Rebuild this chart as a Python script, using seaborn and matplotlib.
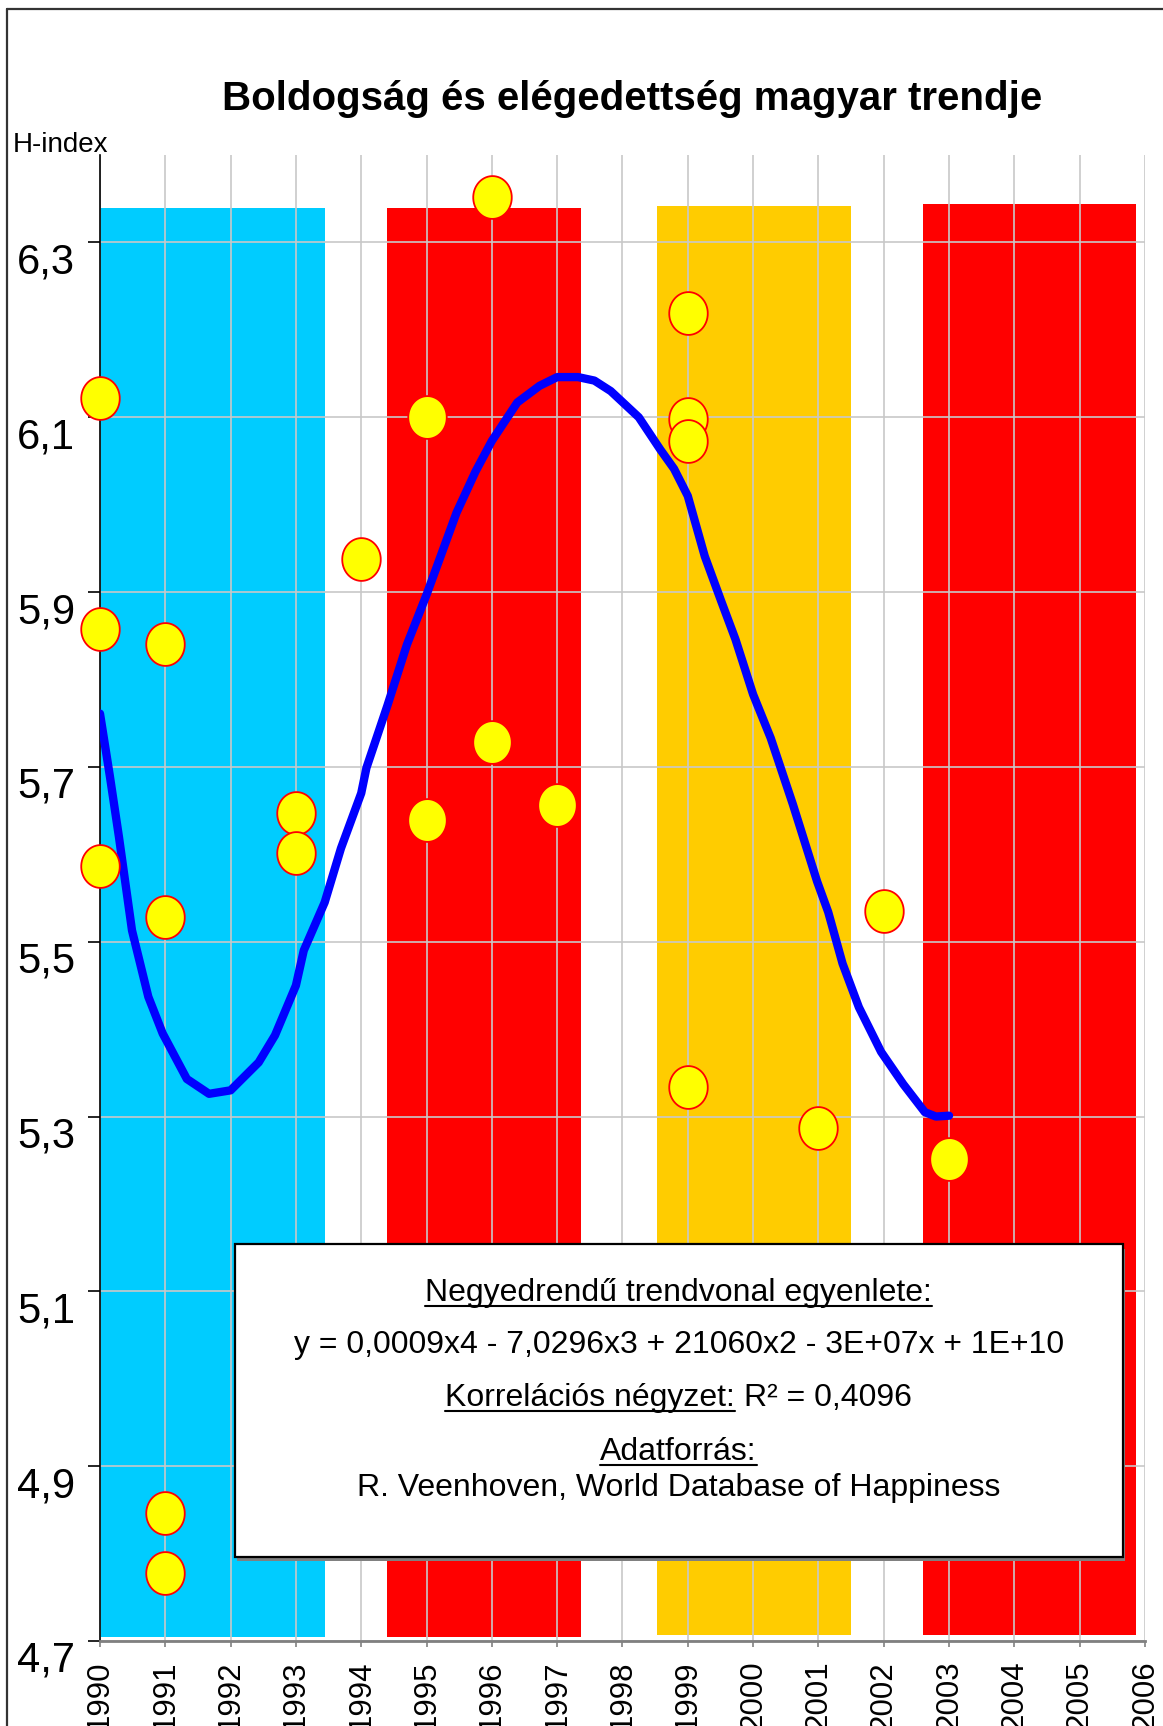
import numpy as np
import seaborn as sns
import matplotlib.pyplot as plt
from matplotlib.patches import Rectangle
from matplotlib.lines import Line2D
from matplotlib.path import Path
from matplotlib.transforms import IdentityTransform

# adatok
point_years = [1990, 1990, 1990, 1991, 1991, 1991, 1991, 1993, 1993, 1994, 1995, 1995,
               1996, 1996, 1997, 1999, 1999, 1999, 1999, 2001, 2002, 2003]
point_values = [6.122, 5.858, 5.587, 5.841, 5.528, 4.847, 4.778, 5.647, 5.601, 5.938, 6.100, 5.639,
                6.352, 5.729, 5.656, 6.219, 6.098, 6.073, 5.334, 5.287, 5.535, 5.251]

trend_years = [1990.0, 1990.15, 1990.29, 1990.49, 1990.74, 1990.96, 1991.33, 1991.67, 1992.0,
               1992.43, 1992.68, 1993.0, 1993.12, 1993.44, 1993.69, 1994.0, 1994.08, 1994.4,
               1994.7, 1995.0, 1995.46, 1995.75, 1996.0, 1996.39, 1996.73, 1997.0, 1997.32,
               1997.57, 1997.82, 1998.25, 1998.58, 1998.79, 1999.0, 1999.26, 1999.51, 1999.73,
               2000.0, 2000.27, 2000.61, 2000.98, 2001.15, 2001.37, 2001.62, 2001.96, 2002.3,
               2002.63, 2002.8, 2003.0]
trend_values = [5.761, 5.69, 5.62, 5.513, 5.437, 5.395, 5.343, 5.326, 5.330,
                5.362, 5.393, 5.450, 5.490, 5.545, 5.607, 5.670, 5.699, 5.770,
                5.840, 5.897, 5.991, 6.038, 6.073, 6.117, 6.136, 6.146, 6.146,
                6.142, 6.130, 6.100, 6.063, 6.041, 6.010, 5.941, 5.890, 5.846,
                5.783, 5.733, 5.657, 5.569, 5.534, 5.475, 5.425, 5.374, 5.337,
                5.305, 5.300, 5.301]

band_start = [1990.0, 1994.4, 1998.53, 2002.6]
band_end = [1993.45, 1997.37, 2001.5, 2005.86]
band_bottom = [4.705, 4.705, 4.707, 4.707]
band_top = [6.340, 6.340, 6.342, 6.344]
band_colors = ['#00CCFF', '#FF0000', '#FFCC00', '#FF0000']

x_ticks = list(range(1990, 2007))
y_ticks = [4.7, 4.9, 5.1, 5.3, 5.5, 5.7, 5.9, 6.1, 6.3]
y_ticklabels = ['4,7', '4,9', '5,1', '5,3', '5,5', '5,7', '5,9', '6,1', '6,3']

sns.set_style('white')
plt.rcParams['font.family'] = ['Liberation Sans', 'DejaVu Sans']
plt.rcParams['text.color'] = 'black'
plt.rcParams['xtick.labelcolor'] = 'black'
plt.rcParams['ytick.labelcolor'] = 'black'

fig = plt.figure(figsize=(11.63, 17.26), dpi=100)
ax = fig.add_axes([0.08598, 0.04925, 0.8985, 0.8609])

# háttérsávok
ax.bar(band_start, np.array(band_top) - np.array(band_bottom),
       width=np.array(band_end) - np.array(band_start), bottom=band_bottom,
       align='edge', color=band_colors, linewidth=0, zorder=0.1)

# trendvonal
sns.lineplot(x=trend_years, y=trend_values, sort=False, estimator=None,
             color='#0000FF', linewidth=6, ax=ax, zorder=3)

# pontok (enyhén elnyújtott kör)
t = np.linspace(0, 2 * np.pi, 60)
ell = Path(np.column_stack([0.9 * np.cos(t), np.sin(t)]))
sns.scatterplot(x=point_years, y=point_values, marker=ell, s=950,
                color='#FFFF00', edgecolor='#FF0000', linewidth=1.3, ax=ax, zorder=4,
                clip_on=False)

ax.set_xlim(1990, 2006)
ax.set_ylim(4.7, 6.4)
ax.set_xticks(x_ticks)
ax.set_xticklabels([str(y) for y in x_ticks], rotation=90, fontsize=22.5)
ax.set_yticks(y_ticks)
ax.set_yticklabels(y_ticklabels, fontsize=30)
plt.setp(ax.get_yticklabels(), va='top')
ax.set_xlabel('')
ax.set_ylabel('')

ax.set_axisbelow(True)
ax.grid(True, color='#C8C8C8', linewidth=1.2)
ax.tick_params(axis='y', direction='out', length=9, width=1.2, color='black', pad=9, left=True)
ax.tick_params(axis='x', direction='out', length=4.3, width=1.2, color='#808080', pad=10, bottom=True)
for s in ['top', 'right']:
    ax.spines[s].set_visible(False)
ax.spines['left'].set_color('black')
ax.spines['left'].set_linewidth(1.2)
ax.spines['bottom'].set_color('#808080')
ax.spines['bottom'].set_linewidth(2)

# szövegdoboz
bx0, bx1, by0, by1 = 1992.06, 2005.66, 4.796, 5.154
ax.add_patch(Rectangle((bx0 + 0.04, by0 - 0.005), bx1 - bx0, by1 - by0, facecolor='#808080',
                       edgecolor='none', zorder=5))
ax.add_patch(Rectangle((bx0, by0), bx1 - bx0, by1 - by0, facecolor='white',
                       edgecolor='black', linewidth=1.6, zorder=6))
xc = (bx0 + bx1) / 2
fs = 23
t1 = ax.text(xc, 5.089, 'Negyedrendű trendvonal egyenlete:', ha='center', va='baseline', fontsize=fs, zorder=7)
ax.text(xc, 5.030, 'y = 0,0009x4 - 7,0296x3 + 21060x2 - 3E+07x + 1E+10', ha='center', va='baseline',
        fontsize=fs, zorder=7)
tfull = ax.text(xc, 4.969, 'Korrelációs négyzet: R² = 0,4096', ha='center', va='baseline', fontsize=fs, zorder=7)
t4 = ax.text(xc, 4.907, 'Adatforrás:', ha='center', va='baseline', fontsize=fs, zorder=7)
ax.text(xc, 4.866, 'R. Veenhoven, World Database of Happiness', ha='center', va='baseline', fontsize=fs, zorder=7)

fig.text(632 / 1163, 1 - 110 / 1726, 'Boldogság és elégedettség magyar trendje', ha='center', va='baseline',
         fontsize=29, fontweight='bold')
fig.text(13 / 1163, 1 - 152 / 1726, 'H-index', ha='left', va='baseline', fontsize=20)

# keret
fig.add_artist(Line2D([7 / 1163, 1], [1 - 9 / 1726, 1 - 9 / 1726], color='#333333', linewidth=1.6))
fig.add_artist(Line2D([7 / 1163, 7 / 1163], [0, 1 - 9 / 1726], color='#333333', linewidth=1.6))

# aláhúzások
fig.canvas.draw()
r = fig.canvas.get_renderer()
idt = IdentityTransform()


def underline(txt, x0, x1):
    yb = ax.transData.transform(txt.get_position())[1] - 5
    fig.add_artist(Line2D([x0, x1], [yb, yb], transform=idt, color='black', linewidth=1.5, zorder=8))


for tt in [t1, t4]:
    bb = tt.get_window_extent(r)
    underline(tt, bb.x0, bb.x1)

bb = tfull.get_window_extent(r)
pos = tfull.get_position()
tfull.remove()
ydisp = ax.transData.transform(pos)[1]
ta = fig.text(bb.x0, ydisp, 'Korrelációs négyzet:', transform=idt, ha='left', va='baseline', fontsize=fs, zorder=7)
tb = fig.text(bb.x1, ydisp, 'R² = 0,4096', transform=idt, ha='right', va='baseline', fontsize=fs, zorder=7)
fig.canvas.draw()
ba = ta.get_window_extent(r)
fig.add_artist(Line2D([ba.x0, ba.x1], [ydisp - 5, ydisp - 5], transform=idt, color='black', linewidth=1.5))

plt.savefig('out.png', dpi=100)
